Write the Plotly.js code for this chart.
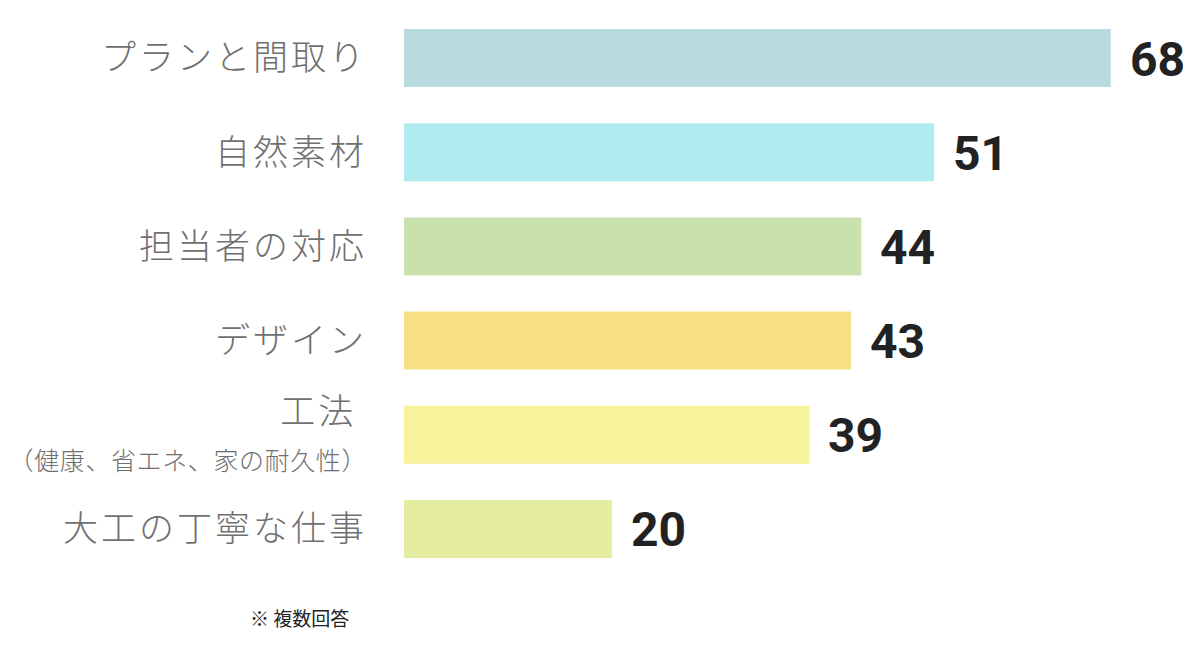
<!DOCTYPE html>
<html>
<head>
<meta charset="utf-8">
<script src="https://cdn.plot.ly/plotly-3.0.1.min.js"></script>
<style>
html,body{margin:0;padding:0;background:#fff;}
.ytick text{letter-spacing:3px;}
</style>
</head>
<body>
<div id="chart" style="width:1200px;height:671px;"></div>
<script>
const categories = ["プランと間取り", "自然素材", "担当者の対応", "デザイン", "工法", "大工の丁寧な仕事"];
const tickLabels = ["プランと間取り", "自然素材", "担当者の対応", "デザイン",
  "工法 <br><span style='font-size:25px;letter-spacing:0.6px'>（健康、省エネ、家の耐久性）</span>", "大工の丁寧な仕事"];
const values = [68, 51, 44, 43, 39, 20];
const barColors = ["#b8dbdf", "#b0ecef", "#c9e1ad", "#f7df85", "#f8f39d", "#e5eda0"];
const note = "※ 複数回答";

const trace = {
  type: "bar",
  orientation: "h",
  x: values,
  y: categories,
  marker: {color: barColors},
  hoverinfo: "none"
};

const annotations = values.map((v, i) => ({
  x: v, y: categories[i], xref: "x", yref: "y",
  text: "<b>" + v + "</b>", showarrow: false,
  xanchor: "left", yanchor: "middle", xshift: 17, yshift: -1,
  font: {family: "Roboto, 'Noto Sans', sans-serif", size: 48, color: "#222222"}
}));
annotations.push({
  xref: "paper", yref: "paper", x: -0.197, y: -0.073, xanchor: "left", yanchor: "middle",
  text: note, showarrow: false,
  font: {family: "'Noto Sans CJK JP', sans-serif", size: 19, color: "#222222"}
});

const layout = {
  width: 1200, height: 671,
  margin: {l: 404, r: 4, t: 11, b: 95},
  paper_bgcolor: "#ffffff", plot_bgcolor: "#ffffff",
  bargap: 0.384,
  showlegend: false,
  xaxis: {range: [0, 76.2], visible: false, fixedrange: true},
  yaxis: {
    type: "category", autorange: "reversed",
    tickmode: "array", tickvals: categories, ticktext: tickLabels,
    ticks: "", showline: false, showgrid: false, zeroline: false,
    ticklabelstandoff: 36,
    tickfont: {family: "'Noto Sans CJK JP', sans-serif", size: 35, color: "#707070", weight: 300}
  },
  annotations: annotations
};

Plotly.newPlot("chart", [trace], layout, {displayModeBar: false, staticPlot: true});
</script>
</body>
</html>
